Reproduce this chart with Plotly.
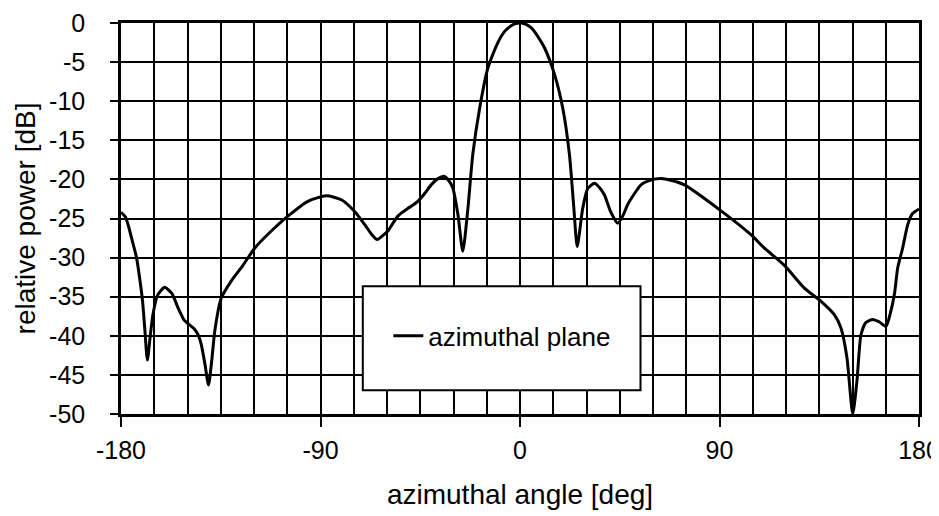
import plotly.graph_objects as go

# azimuthal radiation pattern
angle_deg = [-180, -178, -176.8, -174.5, -173, -171.5, -170.3, -169.3, -168.1, -166.8,
             -165.6, -163.5, -160.3, -157, -154.3, -151.5, -149.5, -147, -145, -143.8,
             -142.2, -140.5, -139, -137.7, -134.8, -130.3, -125, -119.7, -112.2, -104.7,
             -95.7, -87.4, -80.6, -74.6, -70, -67, -64.4, -61.5, -59.6, -55.1,
             -50, -46.1, -43, -40.1, -37, -34.3, -32, -30.3, -28, -25.8,
             -23.5, -21.3, -18.2, -14.5, -10, -7, -4, -2, 0, 2.5, 5, 8, 11.1, 15.6,
             19.3, 22.3, 24.3, 25.8, 28.3, 30.5, 33.6, 36, 38.1, 41,
             44.1, 46.5, 48.6, 54.6, 59, 63.7, 68, 74.2, 89.2, 104.3,
             110.3, 119.3, 128.3, 135.8, 141.8, 144.8, 147.5, 150.1, 152, 153.8,
             156, 159.1, 162, 165.1, 167, 168.9, 170.4, 172.6, 174.9, 177, 180]
power_db = [-24.2, -24.8, -25.8, -28.3, -30.0, -32.8, -35.5, -39.0, -43.1, -40.0,
            -37.3, -34.8, -33.8, -34.6, -36.4, -38.0, -38.5, -39.1, -40.0, -41.1,
            -43.5, -46.3, -43.0, -39.4, -35.2, -33.0, -31.0, -28.8, -26.6, -24.7,
            -22.8, -22.1, -22.6, -24.1, -25.8, -27.0, -27.7, -27.1, -26.6, -24.7,
            -23.6, -22.8, -21.8, -20.7, -19.9, -19.6, -20.2, -21.1, -24.5, -29.2,
            -23.7, -16.8, -10.9, -5.75, -2.5, -1.1, -0.35, -0.08, 0.0, -0.15, -0.6, -1.7, -3.2, -6.6,
            -10.9, -16.8, -23.7, -28.6, -23.7, -21.2, -20.5, -21.1, -22.0, -24.2,
            -25.6, -24.6, -23.2, -20.7, -20.1, -19.9, -20.1, -20.7, -23.7, -27.1,
            -28.8, -31.0, -33.9, -35.6, -37.3, -39.0, -42.8, -50.0, -45.8, -39.9,
            -38.3, -37.9, -38.2, -38.8, -37.2, -34.7, -31.3, -28.8, -25.8, -24.4, -23.8]

x_ticks = [-180, -90, 0, 90, 180]
x_labels = ["-180", "-90", "0", "90", "180"]
y_ticks = [0, -5, -10, -15, -20, -25, -30, -35, -40, -45, -50]
y_labels = ["0", "-5", "-10", "-15", "-20", "-25", "-30", "-35", "-40", "-45", "-50"]

FONT = "Liberation Sans, Arial, sans-serif"

fig = go.Figure()
fig.add_trace(go.Scatter(x=angle_deg, y=power_db, mode="lines",
                         line=dict(color="black", width=3, shape="spline", smoothing=0.6),
                         name="azimuthal plane"))

# legend frame is much bigger than the entry itself, so draw it as a shape
fig.add_shape(type="rect", xref="paper", yref="paper",
              x0=0.303, x1=0.651, y0=0.061, y1=0.327,
              fillcolor="white", line=dict(color="black", width=2), layer="above")

fig.update_layout(
    width=939, height=516,
    margin=dict(l=113, r=28, t=15, b=110),
    paper_bgcolor="white", plot_bgcolor="white",
    font=dict(family=FONT, color="black", size=25),
    showlegend=True,
    legend=dict(x=0.335, y=0.2, xanchor="left", yanchor="middle",
                bgcolor="rgba(0,0,0,0)", borderwidth=0,
                font=dict(size=26, family=FONT)),
)

fig.update_xaxes(
    range=[-180, 180], tickvals=x_ticks, ticktext=x_labels, ticks="outside", ticklen=10,
    tickwidth=1.5, tickcolor="black", ticklabelstandoff=2, automargin=False,
    showgrid=True, gridcolor="black", gridwidth=1.8,
    minor=dict(dtick=15, tick0=-180, showgrid=True, gridcolor="black", gridwidth=1.8, ticks=""),
    showline=True, linecolor="black", linewidth=2.5, mirror=True, zeroline=False,
    title=dict(text="azimuthal angle [deg]", font=dict(size=28), standoff=22),
)
fig.update_yaxes(
    range=[-50, 0], tickvals=y_ticks, ticktext=y_labels, ticks="outside", ticklen=8,
    tickwidth=1.5, tickcolor="black", ticklabelstandoff=20, automargin=False,
    showgrid=True, gridcolor="black", gridwidth=1.8,
    showline=True, linecolor="black", linewidth=2.5, mirror=True, zeroline=False,
    title=dict(text="relative power [dB]", font=dict(size=28), standoff=6),
)

fig.write_html("out.html")
